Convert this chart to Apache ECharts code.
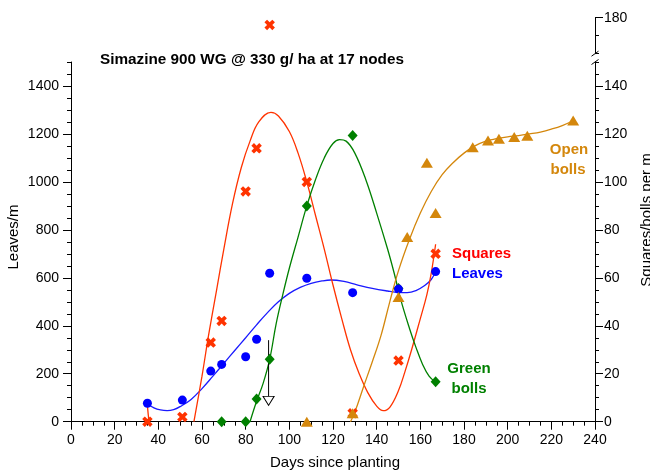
<!DOCTYPE html>
<html><head><meta charset="utf-8">
<script src="https://cdn.jsdelivr.net/npm/echarts@6/dist/echarts.min.js"></script>
<style>html,body{margin:0;padding:0;background:#fff}#c{width:650px;height:473px}</style>
</head><body><div id="c"></div>
<script>
const FONT = "'Liberation Sans', Arial, Helvetica, sans-serif";

// ---- observed points ----
const leavesDays   = [35, 51, 64, 69, 80, 85, 91, 108, 129, 150, 167];
const leavesValues = [77, 90, 211, 239, 271, 344, 619, 598, 538, 553, 626];

const squaresDays   = [35, 51, 64, 69, 80, 85, 91, 108, 129, 150, 167];
const squaresValues = [0, 2, 33, 42, 96, 114, 177, 100, 3.5, 25.5, 70];

const greenDays   = [69, 80, 85, 91, 108, 129, 150, 167];
const greenValues = [0, 0, 9.5, 26, 90, 119.3, 55.5, 16.7];

const openDays   = [108, 129, 150, 154, 163, 167, 184, 191, 196, 203, 209, 230];
const openValues = [0, 3.5, 52, 77, 108, 87, 114.4, 117.3, 118, 118.7, 119.2, 125.6];

// ---- fitted curves ----
const leavesFitDays   = [35, 38, 41, 44, 47, 50, 55, 60, 65, 70, 75, 80, 85, 90, 95, 100, 105, 110, 115, 119, 125, 131, 138, 145, 150, 154, 158, 162, 165, 167];
const leavesFitValues = [75, 58, 49, 46, 50, 63, 93, 138, 190, 243, 297, 350, 404, 455, 500, 535, 560, 577, 587, 591, 585, 571, 556, 545, 539, 538, 547, 568, 593, 626];

const squaresFitDaysA   = [35, 35.7];
const squaresFitValuesA = [6.5, 0];
const squaresFitDaysB   = [56.3, 60, 63, 66.7, 70, 74, 78, 82, 86, 91.6, 95, 100, 104, 108, 112, 116, 120, 124, 128, 132, 136, 140, 143, 146, 150, 153, 156, 160, 163, 165, 167];
const squaresFitValuesB = [0, 19, 36, 55, 72, 91, 106, 117, 125, 129, 127.5, 121, 112, 100, 86, 72, 57, 43, 30, 20, 12, 6.5, 4.6, 6, 13, 21, 30, 43, 53, 62, 74];

const greenFitDays   = [82, 85, 88, 91, 94, 97, 100, 104, 108, 112, 116, 120, 123, 126, 130, 135, 140, 145, 148, 151, 155, 158, 161, 164, 167];
const greenFitValues = [0, 8.5, 16, 26, 41, 53, 64, 77, 90, 101, 110, 116, 117.6, 117, 112, 101, 87, 72, 62, 51, 39, 31, 24, 19, 16.5];

const openFitDays   = [128, 130, 134, 138, 142, 146, 150, 155, 160, 165, 170, 175, 180, 185, 190, 195, 200, 205, 210, 215, 220, 225, 230];
const openFitValues = [0, 4, 14.6, 25, 36, 50, 63, 76, 87, 96, 103, 108, 112, 115, 117, 118, 118.8, 119.3, 120, 120.8, 122, 123.5, 125.5];

// ---- arrow (squares/bolls scale) ----
const arrowDay = 90.5;
const arrowShaft = [34, 10.5];
const arrowHead = 8.7;

// ---- ticks ----
const dayTicks = [0, 20, 40, 60, 80, 100, 120, 140, 160, 180, 200, 220, 240];
const leavesTicks = [0, 200, 400, 600, 800, 1000, 1200, 1400];
const countTicks = [0, 20, 40, 60, 80, 100, 120, 140];
const countUpperTicks = [180];
const leavesRange = [0, 1500];
const countRange = [0, 150];
const countUpperRange = [165, 180];

function pairs(xs, ys) { return xs.map((x, i) => [x, ys[i]]); }
function steps(a, b, s) { const r = []; for (let v = a; v <= b + 1e-9; v += s) r.push(+v.toFixed(6)); return r; }

const BLUE = '#0000ff', RED = '#ff3300', GREEN = '#008000', ORANGE = '#d4870c';
const axisLine = { show: true, onZero: false, lineStyle: { color: '#000', width: 1 } };
const tickStyle = { color: '#000', width: 1 };
const labelStyle = { color: '#000', fontSize: 14, fontFamily: FONT, formatter: v => String(v) };

function majorY(grid, range, ticks, pos, margin) {
  return { type: 'value', gridIndex: grid, min: range[0], max: range[1], position: pos,
    axisLine: axisLine, splitLine: { show: false },
    axisTick: { show: true, length: 8, lineStyle: tickStyle, customValues: ticks },
    axisLabel: Object.assign({ margin: margin, customValues: ticks }, labelStyle) };
}
function minorY(grid, range, step, pos) {
  return { type: 'value', gridIndex: grid, min: range[0], max: range[1], position: pos,
    axisLine: { show: false, onZero: false }, splitLine: { show: false },
    axisTick: { show: true, length: 4, lineStyle: tickStyle, customValues: steps(range[0], range[1], step) },
    axisLabel: { show: false } };
}

const BREAK = countRange[1];
const sqAll = pairs(squaresDays, squaresValues);
const CROSS = 'path://M0,2.5 L2.5,0 L5,2.5 L7.5,0 L10,2.5 L7.5,5 L10,7.5 L7.5,10 L5,7.5 L2.5,10 L0,7.5 L2.5,5 Z';

function fitLine(data, yIdx, color, z) {
  return { type: 'line', xAxisIndex: 0, yAxisIndex: yIdx, data: data, smooth: 0.4, symbol: 'none',
    lineStyle: { color: color, width: 1.3 }, z: z, silent: true };
}

const chart = echarts.init(document.getElementById('c'), null, { renderer: 'canvas' });
chart.setOption({
  animation: false,
  backgroundColor: '#fff',
  textStyle: { fontFamily: FONT },
  grid: [
    { left: 71, top: 62, width: 524, height: 359.7 },
    { left: 71, top: 17.7, width: 524, height: 36 }
  ],
  xAxis: [
    { type: 'value', gridIndex: 0, min: dayTicks[0], max: dayTicks[dayTicks.length - 1], interval: 20,
      axisLine: axisLine, splitLine: { show: false },
      axisTick: { show: true, length: 8, lineStyle: tickStyle },
      minorTick: { show: true, splitNumber: 4, length: 4, lineStyle: tickStyle },
      axisLabel: Object.assign({ margin: 11 }, labelStyle) },
    { type: 'value', gridIndex: 1, min: dayTicks[0], max: dayTicks[dayTicks.length - 1], show: false }
  ],
  yAxis: [
    majorY(0, leavesRange, leavesTicks, 'left', 12),
    minorY(0, leavesRange, 50, 'left'),
    majorY(0, countRange, countTicks, 'right', 9),
    minorY(0, countRange, 5, 'right'),
    majorY(1, countUpperRange, countUpperTicks, 'right', 9),
    minorY(1, [countUpperRange[0] + 5, countUpperRange[1]], 5, 'right')
  ],
  series: [
    fitLine(pairs(leavesFitDays, leavesFitValues), 0, '#1a1aff', 2),
    fitLine(pairs(squaresFitDaysA, squaresFitValuesA), 2, RED, 2),
    fitLine(pairs(squaresFitDaysB, squaresFitValuesB), 2, RED, 2),
    fitLine(pairs(greenFitDays, greenFitValues), 2, GREEN, 2),
    fitLine(pairs(openFitDays, openFitValues), 2, ORANGE, 2),
    { type: 'line', xAxisIndex: 0, yAxisIndex: 2, data: arrowShaft.map(v => [arrowDay, v]), symbol: 'none',
      lineStyle: { color: '#000', width: 1 }, z: 3 },
    { type: 'scatter', xAxisIndex: 0, yAxisIndex: 2, data: [[arrowDay, arrowHead]], symbol: 'triangle', symbolRotate: 180,
      symbolSize: [11, 9], itemStyle: { color: '#fff', borderColor: '#000', borderWidth: 1, opacity: 1 }, z: 3 },
    { type: 'scatter', xAxisIndex: 0, yAxisIndex: 2, data: pairs(greenDays, greenValues), symbol: 'diamond',
      symbolSize: [10, 11], itemStyle: { color: GREEN, opacity: 1 }, z: 4 },
    { type: 'scatter', xAxisIndex: 0, yAxisIndex: 2, data: sqAll.filter(p => p[1] <= BREAK), symbol: CROSS,
      symbolSize: 10.5, itemStyle: { color: RED, opacity: 1 }, z: 5 },
    { type: 'scatter', xAxisIndex: 1, yAxisIndex: 4, data: sqAll.filter(p => p[1] > BREAK), symbol: CROSS,
      symbolSize: 10.5, itemStyle: { color: RED, opacity: 1 }, z: 5 },
    { type: 'scatter', xAxisIndex: 0, yAxisIndex: 0, data: pairs(leavesDays, leavesValues), symbol: 'circle',
      symbolSize: 9, itemStyle: { color: BLUE, opacity: 1 }, z: 6 },
    { type: 'scatter', xAxisIndex: 0, yAxisIndex: 2, data: pairs(openDays, openValues), symbol: 'triangle',
      symbolSize: [12, 10], itemStyle: { color: ORANGE, opacity: 1 }, z: 7 }
  ],
  graphic: { elements: [
    { id: 't', type: 'text', x: 100, y: 60, style: { text: 'Simazine 900 WG @ 330 g/ ha at 17 nodes', font: 'bold 15.3px ' + FONT, fill: '#000', verticalAlign: 'middle' } },
    { id: 'sq', type: 'text', x: 452, y: 254, style: { text: 'Squares', font: 'bold 15px ' + FONT, fill: '#ff0000', verticalAlign: 'middle' } },
    { id: 'lv', type: 'text', x: 452, y: 274, style: { text: 'Leaves', font: 'bold 15px ' + FONT, fill: BLUE, verticalAlign: 'middle' } },
    { id: 'ob1', type: 'text', x: 569, y: 150, style: { text: 'Open', font: 'bold 15px ' + FONT, fill: ORANGE, align: 'center', verticalAlign: 'middle' } },
    { id: 'ob2', type: 'text', x: 568, y: 170, style: { text: 'bolls', font: 'bold 15px ' + FONT, fill: ORANGE, align: 'center', verticalAlign: 'middle' } },
    { id: 'gb1', type: 'text', x: 469, y: 369, style: { text: 'Green', font: 'bold 15px ' + FONT, fill: GREEN, align: 'center', verticalAlign: 'middle' } },
    { id: 'gb2', type: 'text', x: 469, y: 389, style: { text: 'bolls', font: 'bold 15px ' + FONT, fill: GREEN, align: 'center', verticalAlign: 'middle' } },
    { id: 'xn', type: 'text', x: 335, y: 463, style: { text: 'Days since planting', font: '15px ' + FONT, fill: '#000', align: 'center', verticalAlign: 'middle' } },
    { id: 'yl', type: 'text', x: 14, y: 237, rotation: Math.PI / 2, style: { text: 'Leaves/m', font: '15px ' + FONT, fill: '#000', align: 'center', verticalAlign: 'middle' } },
    { id: 'yr', type: 'text', x: 647, y: 220, rotation: Math.PI / 2, style: { text: 'Squares/bolls per m', font: '15px ' + FONT, fill: '#000', align: 'center', verticalAlign: 'middle' } }
  ] }
});

// axis-break slashes placed from the axes' own scales
const ax = chart.convertToPixel({ xAxisIndex: 0 }, dayTicks[dayTicks.length - 1]);
const yTop = chart.convertToPixel({ yAxisIndex: 4 }, countUpperRange[0]);
const yBot = chart.convertToPixel({ yAxisIndex: 2 }, countRange[1]);
chart.setOption({ graphic: { elements: [
  { id: 'b1', type: 'line', shape: { x1: ax - 3.5, y1: yTop + 2.5, x2: ax + 3.5, y2: yTop - 2.5 }, style: { stroke: '#000', lineWidth: 1 } },
  { id: 'b2', type: 'line', shape: { x1: ax - 3.5, y1: yBot + 2.5, x2: ax + 3.5, y2: yBot - 2.5 }, style: { stroke: '#000', lineWidth: 1 } }
] } });
</script>
</body></html>
